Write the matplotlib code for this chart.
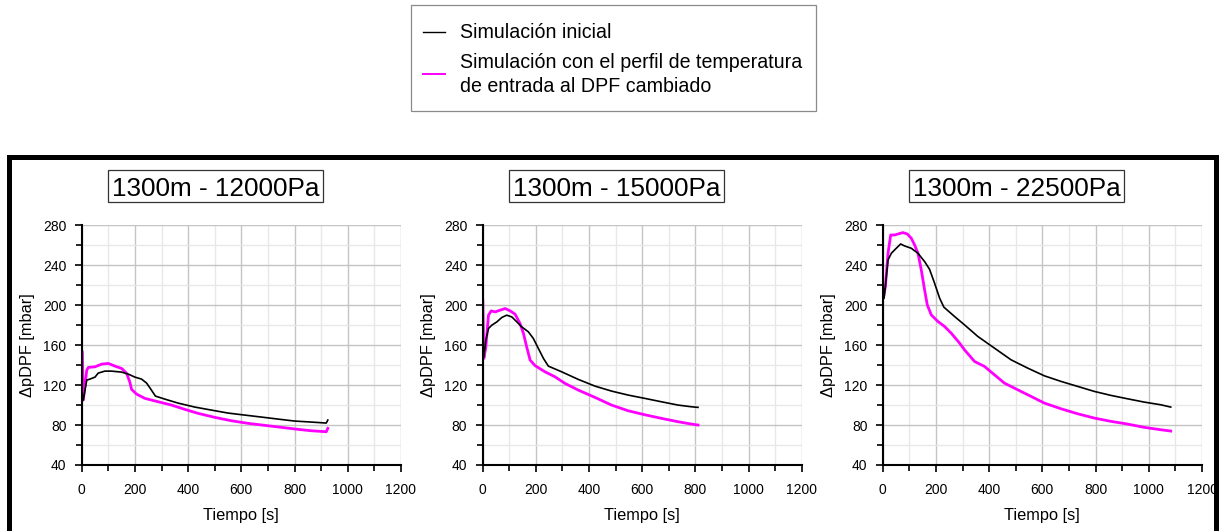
import matplotlib
matplotlib.use("Agg")
import matplotlib.pyplot as plt
from matplotlib.patches import Rectangle
from matplotlib.lines import Line2D
from matplotlib.ticker import MultipleLocator

plt.rcParams['font.family'] = ['Liberation Sans', 'DejaVu Sans']

W, H = 1219, 531

# ---------------- data ----------------
panel_titles = ["1300m - 12000Pa", "1300m - 15000Pa", "1300m - 22500Pa"]
legend_labels = ["Simulación inicial",
                 "Simulación con el perfil de temperatura\nde entrada al DPF cambiado"]

# 1300 m - 12000 Pa
t_12000_ini = [0, 6, 19, 31, 50, 62, 87, 112, 150, 175, 200, 225, 244, 262, 277,
               312, 362, 425, 487, 550, 612, 675, 737, 800, 862, 919, 925]
p_12000_ini = [115, 105, 125, 126, 128, 132, 134, 134, 133, 131, 128, 126, 122, 115, 109,
               106, 102, 98, 95, 92, 90, 88, 86, 84, 83, 82, 85]
t_12000_mod = [0, 2.5, 6, 19, 25, 50, 75, 100, 125, 150, 169, 181, 187.5, 206, 237.5,
               287.5, 337.5, 387.5, 437.5, 500, 562.5, 625, 687.5, 750, 812.5, 862.5, 919, 925]
p_12000_mod = [155, 153, 105, 135, 137.7, 138.3, 141, 141.7, 139, 136.7, 131.7, 123, 115.7, 111, 106.7,
               103.3, 100, 95.7, 91.7, 87.7, 84.3, 81.7, 79.7, 77.7, 75.7, 74.3, 73.3, 76.7]

# 1300 m - 15000 Pa
t_15000_ini = [0, 5, 12.5, 22.5, 35, 54, 72.5, 91, 110, 129, 147.5, 172.5, 191, 210, 229,
               247.5, 297.5, 360, 422.5, 485, 547.5, 610, 672.5, 735, 785, 810]
p_15000_ini = [160, 148, 165, 176.7, 180, 183.3, 187.7, 190, 188.3, 183.3, 178.3, 173.3, 166.7, 156.7, 146.7,
               139, 133.3, 125.7, 119, 114, 110, 106.7, 103.3, 100, 98.3, 97.7]
t_15000_mod = [0, 1.25, 5, 12.5, 22.5, 32.5, 47.5, 66, 85, 104, 122.5, 141, 154, 166, 179,
               197.5, 235, 272.5, 310, 360, 422.5, 485, 547.5, 610, 672.5, 735, 785, 810]
p_15000_mod = [208, 205, 146.7, 158, 190, 194.3, 193.3, 195, 196.7, 194.3, 191, 181.7, 171.7, 158.3, 145,
               139.5, 133.3, 128.3, 121.7, 115, 107.7, 100, 94.3, 90.3, 86.7, 83.3, 81, 80]

# 1300 m - 22500 Pa
t_22500_ini = [0, 5, 10, 20, 32.5, 51, 67.5, 82.5, 107.5, 132.5, 157.5, 176, 195, 214, 230,
               270, 307.5, 357.5, 420, 482.5, 545, 607.5, 670, 732.5, 795, 857.5, 920, 982.5, 1045, 1082.5]
p_22500_ini = [225, 207, 218.7, 245.3, 252, 257, 261.3, 259.3, 257, 252, 243.7, 236, 222, 207, 198,
               188.7, 180.3, 168.7, 157, 145.3, 137, 129.3, 123.7, 118.7, 113.7, 109.7, 106.3, 103, 100.3, 98]
t_22500_mod = [0, 2.5, 10, 20, 30, 45, 57.5, 76, 92.5, 107.5, 120, 132.5, 145, 157.5, 167.5,
               182.5, 207.5, 232.5, 257.5, 289, 307.5, 345, 382.5, 420, 457.5, 507.5, 557.5, 607.5,
               670, 732.5, 795, 857.5, 920, 982.5, 1045, 1082.5]
p_22500_mod = [215, 207, 218.7, 252, 270.3, 270.3, 271.3, 272.7, 271.3, 267, 260.3, 252, 235.3, 215.3, 200.3,
               190.3, 183.7, 178.7, 172, 162, 155.3, 143.7, 138.7, 130.3, 122, 115.3, 108.7, 102,
               96.3, 91.3, 87, 83.7, 81, 77.7, 75.3, 74]

series = [
    (t_12000_ini, p_12000_ini, t_12000_mod, p_12000_mod),
    (t_15000_ini, p_15000_ini, t_15000_mod, p_15000_mod),
    (t_22500_ini, p_22500_ini, t_22500_mod, p_22500_mod),
]

color_ini = "#000000"
color_mod = "#ff00ff"

# ---------------- figure ----------------
fig = plt.figure(figsize=(W / 100, H / 100), dpi=100)


def fx(x):
    return x / W


def fy(y):
    return 1 - y / H


# heavy outer frame around the three panels
frame = Rectangle((fx(8.5), fy(533)), fx(1215.5) - fx(8.5), fy(156.5) - fy(533),
                  transform=fig.transFigure, fill=False, edgecolor="black",
                  linewidth=3.6, clip_on=False)
fig.add_artist(frame)

axes_left_px = [81.7, 482.5, 882.7]
ax_w_px = 319.3
ax_top_px, ax_bot_px = 225.3, 465.0

for i, (left_px, (ti, pi, tm, pm), title) in enumerate(zip(axes_left_px, series, panel_titles)):
    ax = fig.add_axes([fx(left_px), fy(ax_bot_px), ax_w_px / W, (ax_bot_px - ax_top_px) / H])
    ax.set_xlim(0, 1200)
    ax.set_ylim(40, 280)
    ax.xaxis.set_major_locator(MultipleLocator(200))
    ax.xaxis.set_minor_locator(MultipleLocator(100))
    ax.yaxis.set_major_locator(MultipleLocator(40))
    ax.yaxis.set_minor_locator(MultipleLocator(20))
    ax.grid(True, which="major", color="#c4c4c4", linewidth=1.0)
    ax.grid(True, which="minor", color="#e8e8e8", linewidth=1.0)
    ax.set_axisbelow(True)
    for s in ("top", "right"):
        ax.spines[s].set_visible(False)
    for s in ("left", "bottom"):
        ax.spines[s].set_linewidth(1.5)
        ax.spines[s].set_color("black")
    ax.tick_params(which="major", direction="out", length=5, width=1.2,
                   labelsize=10, colors="black")
    ax.tick_params(axis="x", which="major", pad=8)
    ax.tick_params(axis="y", which="major", pad=6)
    ax.tick_params(which="minor", direction="out", length=4, width=1.2, colors="black")

    l_ini, = ax.plot(ti, pi, color=color_ini, linewidth=1.2, zorder=3)
    l_mod, = ax.plot(tm, pm, color=color_mod, linewidth=2.0, zorder=2)

    ax.set_xlabel("Tiempo [s]", fontsize=11.8, labelpad=8)
    ax.set_ylabel("ΔpDPF [mbar]", fontsize=11.8, labelpad=6)

    # boxed panel heading
    bx0 = (108 - 81.7) / ax_w_px
    bx1 = (323 - 81.7) / ax_w_px
    by0 = (ax_bot_px - 202) / (ax_bot_px - ax_top_px)
    by1 = (ax_bot_px - 170) / (ax_bot_px - ax_top_px)
    ax.add_patch(Rectangle((bx0, by0), bx1 - bx0, by1 - by0, transform=ax.transAxes,
                           facecolor="white", edgecolor="#333333", linewidth=0.9,
                           clip_on=False))
    ax.text((bx0 + bx1) / 2, (by0 + by1) / 2, title, transform=ax.transAxes,
            ha="center", va="center_baseline", fontsize=18.8, color="black")

    if i == 0:
        handles = (l_ini, l_mod)

# ---------------- legend ----------------
fig.add_artist(Rectangle((fx(410.5), fy(110.5)), fx(815.5) - fx(410.5), fy(4.5) - fy(110.5),
                         transform=fig.transFigure, fill=False, edgecolor="#8a8a8a",
                         linewidth=0.9))
for h, y_line, y_text, label in zip(handles, (32, 74), (32, 74.5), legend_labels):
    fig.add_artist(Line2D([fx(423), fx(445)], [fy(y_line), fy(y_line)],
                          transform=fig.transFigure, color=h.get_color(),
                          linewidth=1.0 if h is handles[0] else 1.4))
    fig.text(fx(460), fy(y_text), label, ha="left", va="center", fontsize=14.1,
             linespacing=1.4, color="black")

fig.savefig("out.png", dpi=100)
